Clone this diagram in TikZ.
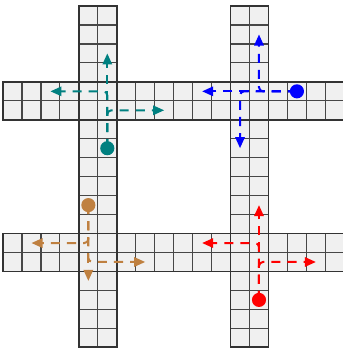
\documentclass[tikz,border=0pt]{standalone}
\usetikzlibrary{arrows.meta}
\definecolor{roadfill}{HTML}{F0F0F0}
\definecolor{carbrown}{rgb}{0.75,0.5,0.25}
\begin{document}
\begin{tikzpicture}[x=0.5cm,y=0.5cm,
  roadarea/.style={fill=roadfill},
  cellline/.style={draw=black!72,line width=0.9pt,step=0.5cm},
  roadedge/.style={draw=black!80,line width=1.4pt},
  route/.style={line width=1.5pt,dash pattern=on 6.8pt off 5.3pt,rounded corners=3pt,
    -{Triangle[length=8.3pt,width=7pt]}},
  cardot/.style={circle,fill=#1,inner sep=0pt,minimum size=10.6pt}]
\useasboundingbox (-0.159,-0.036) rectangle (17.93,18.317);
% roads
\fill[roadarea] (0,12) rectangle (18,14);
\fill[roadarea] (0,4) rectangle (18,6);
\fill[roadarea] (4,0) rectangle (6,18);
\fill[roadarea] (12,0) rectangle (14,18);
\draw[cellline] (0,12) grid (18,14);
\draw[cellline] (0,4) grid (18,6);
\draw[cellline] (4,0) grid (6,18);
\draw[cellline] (12,0) grid (14,18);
\draw[roadedge] (0,12) rectangle (18,14);
\draw[roadedge] (0,4) rectangle (18,6);
\draw[roadedge] (4,0) rectangle (6,18);
\draw[roadedge] (12,0) rectangle (14,18);
% car positions and route ends
\coordinate (tcar) at (5.5,10.5);
\coordinate (tS) at (5.5,15.5);
\coordinate (tL) at (2.5,13.5);
\coordinate (tR) at (8.5,12.5);
\coordinate (bcar) at (15.5,13.5);
\coordinate (bS) at (10.5,13.5);
\coordinate (bR) at (13.5,16.5);
\coordinate (bL) at (12.5,10.5);
\coordinate (ncar) at (4.5,7.5);
\coordinate (nS) at (4.5,3.5);
\coordinate (nL) at (7.5,4.5);
\coordinate (nR) at (1.5,5.5);
\coordinate (rcar) at (13.5,2.5);
\coordinate (rS) at (13.5,7.5);
\coordinate (rL) at (10.5,5.5);
\coordinate (rR) at (16.5,4.5);
% routes
\draw[route,teal] (tcar) -- (tS);
\draw[route,teal] (tcar) |- (tL);
\draw[route,teal] (tcar) |- (tR);
\draw[route,blue] (bcar) -- (bS);
\draw[route,blue] (bcar) -| (bR);
\draw[route,blue] (bcar) -| (bL);
\draw[route,carbrown] (ncar) -- (nS);
\draw[route,carbrown] (ncar) |- (nL);
\draw[route,carbrown] (ncar) |- (nR);
\draw[route,red] (rcar) -- (rS);
\draw[route,red] (rcar) |- (rL);
\draw[route,red] (rcar) |- (rR);
% cars
\node[cardot=teal] (tdot) at (tcar) {};
\node[cardot=blue] (bdot) at (bcar) {};
\node[cardot=carbrown] (ndot) at (ncar) {};
\node[cardot=red] (rdot) at (rcar) {};
\end{tikzpicture}
\end{document}
